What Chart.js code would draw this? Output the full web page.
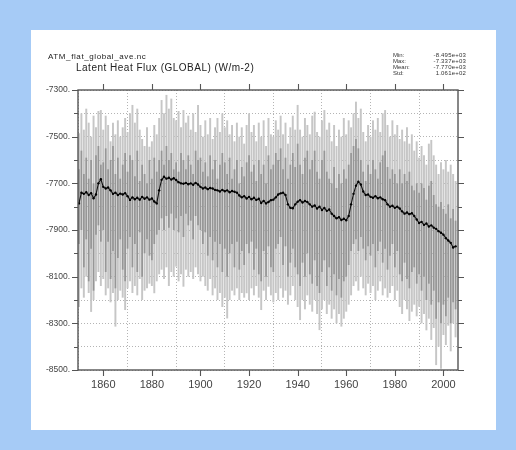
<!DOCTYPE html>
<html>
<head>
<meta charset="utf-8">
<script src="https://cdn.jsdelivr.net/npm/chart.js@4/dist/chart.umd.min.js"></script>
<style>
  html, body { margin:0; padding:0; }
  body { width:516px; height:450px; background:#a6cbf6; position:relative; overflow:hidden; font-family:"Liberation Sans", Arial, sans-serif; }
  #panel { position:absolute; left:31px; top:30px; width:465px; height:400px; background:#ffffff; }
  #wrap { position:absolute; left:0; top:0; width:516px; height:450px; }
  .t { position:absolute; white-space:nowrap; color:#222; }
  #fname { left:48px; top:53px; font-size:8px; line-height:8px; letter-spacing:0.6px; }
  #title { left:76px; top:63px; font-size:10px; line-height:10px; letter-spacing:0.5px; }
  .s { position:absolute; font-size:6px; line-height:6px; color:#333; white-space:nowrap; }
  .sl { left:393px; }
  .sv { right:50px; text-align:right; letter-spacing:0.2px; }
</style>
</head>
<body>
<div id="panel"></div>
<div id="wrap"><canvas id="c" width="516" height="450"></canvas></div>
<div class="t" id="fname">ATM_flat_global_ave.nc</div>
<div class="t" id="title">Latent Heat Flux (GLOBAL) (W/m-2)</div>
<div class="s sl" style="top:52px">Min:</div>
<div class="s sl" style="top:58px">Max:</div>
<div class="s sl" style="top:64px">Mean:</div>
<div class="s sl" style="top:70px">Std:</div>
<div class="s sv" style="top:52px">-8.495e+03</div>
<div class="s sv" style="top:58px">-7.337e+03</div>
<div class="s sv" style="top:64px">-7.770e+03</div>
<div class="s sv" style="top:70px">1.061e+02</div>
<script>
const years = [
1850,1851,1852,1853,1854,1855,1856,1857,1858,1859,
1860,1861,1862,1863,1864,1865,1866,1867,1868,1869,
1870,1871,1872,1873,1874,1875,1876,1877,1878,1879,
1880,1881,1882,1883,1884,1885,1886,1887,1888,1889,
1890,1891,1892,1893,1894,1895,1896,1897,1898,1899,
1900,1901,1902,1903,1904,1905,1906,1907,1908,1909,
1910,1911,1912,1913,1914,1915,1916,1917,1918,1919,
1920,1921,1922,1923,1924,1925,1926,1927,1928,1929,
1930,1931,1932,1933,1934,1935,1936,1937,1938,1939,
1940,1941,1942,1943,1944,1945,1946,1947,1948,1949,
1950,1951,1952,1953,1954,1955,1956,1957,1958,1959,
1960,1961,1962,1963,1964,1965,1966,1967,1968,1969,
1970,1971,1972,1973,1974,1975,1976,1977,1978,1979,
1980,1981,1982,1983,1984,1985,1986,1987,1988,1989,
1990,1991,1992,1993,1994,1995,1996,1997,1998,1999,
2000,2001,2002,2003,2004,2005];

const meanV = [
-7786,-7740,-7745,-7738,-7750,-7742,-7764,-7748,-7700,-7682,
-7715,-7722,-7718,-7730,-7745,-7740,-7750,-7744,-7748,-7742,
-7755,-7771,-7760,-7768,-7762,-7770,-7758,-7766,-7760,-7770,
-7765,-7778,-7786,-7730,-7685,-7672,-7680,-7676,-7684,-7678,
-7686,-7695,-7700,-7702,-7698,-7704,-7700,-7706,-7698,-7705,
-7715,-7722,-7718,-7725,-7720,-7722,-7728,-7730,-7735,-7728,
-7734,-7730,-7738,-7733,-7736,-7740,-7752,-7760,-7755,-7765,
-7758,-7768,-7762,-7771,-7766,-7784,-7775,-7786,-7780,-7772,
-7770,-7760,-7748,-7743,-7740,-7750,-7790,-7805,-7807,-7790,
-7779,-7772,-7782,-7776,-7780,-7790,-7800,-7795,-7808,-7800,
-7814,-7806,-7818,-7812,-7830,-7840,-7850,-7845,-7857,-7852,
-7858,-7840,-7790,-7745,-7710,-7693,-7705,-7735,-7750,-7748,
-7758,-7762,-7755,-7764,-7760,-7768,-7772,-7790,-7800,-7796,
-7805,-7800,-7808,-7820,-7830,-7825,-7832,-7828,-7840,-7855,
-7870,-7865,-7878,-7872,-7885,-7880,-7890,-7895,-7905,-7912,
-7920,-7935,-7945,-7955,-7975,-7970];

const maxV = [
-7485,-7400,-7470,-7380,-7440,-7500,-7410,-7460,-7390,-7386,
-7470,-7410,-7450,-7520,-7440,-7490,-7430,-7500,-7460,-7420,
-7480,-7400,-7364,-7440,-7380,-7470,-7510,-7540,-7460,-7543,
-7520,-7450,-7490,-7420,-7343,-7400,-7321,-7380,-7337,-7420,
-7430,-7390,-7460,-7386,-7440,-7410,-7470,-7400,-7480,-7364,
-7450,-7500,-7430,-7490,-7420,-7510,-7460,-7420,-7480,-7400,
-7460,-7430,-7490,-7450,-7520,-7440,-7500,-7460,-7530,-7450,
-7400,-7480,-7450,-7520,-7440,-7500,-7430,-7540,-7420,-7490,
-7500,-7430,-7470,-7410,-7490,-7440,-7530,-7460,-7410,-7470,
-7364,-7470,-7500,-7420,-7450,-7490,-7410,-7393,-7480,-7500,
-7430,-7386,-7470,-7440,-7520,-7450,-7540,-7470,-7500,-7420,
-7490,-7430,-7460,-7400,-7350,-7420,-7380,-7480,-7520,-7450,
-7500,-7430,-7470,-7420,-7480,-7400,-7386,-7450,-7500,-7430,
-7490,-7450,-7510,-7470,-7520,-7460,-7530,-7490,-7560,-7520,
-7590,-7540,-7580,-7620,-7530,-7514,-7580,-7620,-7660,-7610,
-7640,-7600,-7650,-7620,-7660,-7690];

const minV = [
-8230,-8150,-8190,-8100,-8170,-8251,-8200,-8120,-8080,-8140,
-8110,-8180,-8150,-8210,-8170,-8314,-8200,-8160,-8190,-8243,
-8150,-8120,-8170,-8140,-8180,-8110,-8200,-8160,-8150,-8130,
-8140,-8171,-8120,-8090,-8070,-8110,-8060,-8140,-8080,-8100,
-8057,-8120,-8090,-8143,-8070,-8100,-8080,-8110,-8060,-8090,
-8120,-8100,-8140,-8160,-8110,-8180,-8150,-8200,-8170,-8230,
-8190,-8279,-8200,-8160,-8180,-8150,-8200,-8170,-8190,-8171,
-8200,-8150,-8180,-8140,-8190,-8243,-8160,-8200,-8143,-8180,
-8210,-8170,-8200,-8150,-8190,-8160,-8220,-8180,-8140,-8200,
-8230,-8286,-8200,-8240,-8180,-8220,-8250,-8200,-8260,-8329,
-8240,-8200,-8260,-8220,-8280,-8240,-8300,-8260,-8314,-8280,
-8250,-8220,-8180,-8140,-8120,-8160,-8100,-8150,-8180,-8130,
-8170,-8140,-8200,-8160,-8120,-8180,-8150,-8190,-8170,-8140,
-8200,-8160,-8230,-8260,-8200,-8240,-8290,-8250,-8220,-8270,
-8229,-8300,-8260,-8330,-8280,-8371,-8320,-8479,-8400,-8495,
-8350,-8393,-8310,-8420,-8300,-8360];

const darkTop = [
-7640,-7560,-7660,-7590,-7680,-7600,-7700,-7580,-7540,-7620,
-7610,-7550,-7640,-7600,-7540,-7660,-7590,-7680,-7620,-7570,
-7650,-7580,-7600,-7670,-7560,-7690,-7620,-7660,-7700,-7600,
-7680,-7590,-7650,-7600,-7560,-7620,-7540,-7600,-7570,-7640,
-7610,-7650,-7570,-7600,-7640,-7580,-7620,-7660,-7560,-7600,
-7590,-7650,-7610,-7670,-7580,-7640,-7600,-7680,-7620,-7570,
-7610,-7660,-7590,-7680,-7640,-7600,-7700,-7630,-7670,-7610,
-7580,-7650,-7620,-7690,-7600,-7660,-7620,-7700,-7580,-7640,
-7620,-7570,-7600,-7550,-7640,-7590,-7680,-7620,-7570,-7630,
-7530,-7620,-7660,-7590,-7560,-7640,-7600,-7560,-7650,-7680,
-7600,-7560,-7650,-7680,-7700,-7630,-7720,-7660,-7700,-7640,
-7680,-7620,-7570,-7540,-7510,-7550,-7600,-7650,-7690,-7620,
-7660,-7600,-7640,-7680,-7610,-7580,-7560,-7630,-7680,-7640,
-7660,-7700,-7640,-7700,-7660,-7690,-7650,-7710,-7730,-7700,
-7740,-7700,-7720,-7770,-7710,-7690,-7750,-7790,-7800,-7780,
-7810,-7830,-7790,-7850,-7810,-7860];

const darkBottom = [
-7960,-7900,-8060,-7940,-8120,-7980,-8160,-7920,-7880,-7950,
-7900,-8080,-7950,-8110,-7990,-8150,-8020,-7940,-8070,-8120,
-7980,-7930,-8060,-7960,-8080,-7910,-8100,-8000,-7940,-8010,
-8030,-7960,-7920,-7900,-7850,-7900,-7840,-7890,-7830,-7900,
-7850,-7910,-7840,-7930,-7830,-7880,-7860,-7940,-7840,-7880,
-7900,-7960,-7910,-8010,-7930,-8030,-7950,-8060,-7960,-8080,
-7980,-8100,-8000,-7960,-8060,-7950,-8070,-7990,-8050,-7960,
-8000,-7950,-8070,-7980,-8090,-8120,-7990,-8100,-7970,-8060,
-8080,-7980,-7960,-7930,-8050,-7970,-8100,-8040,-7980,-8060,
-8090,-8140,-8040,-8100,-8000,-8090,-8130,-8030,-8140,-8170,
-8080,-8030,-8140,-8060,-8160,-8090,-8180,-8110,-8190,-8120,
-8100,-8050,-7990,-7960,-7940,-7990,-7930,-7980,-8030,-7970,
-8010,-7960,-8060,-7990,-7950,-8040,-7980,-8070,-8010,-7960,
-8060,-7990,-8090,-8120,-8040,-8110,-8150,-8080,-8060,-8130,
-8090,-8160,-8100,-8200,-8130,-8220,-8160,-8280,-8210,-8300,
-8220,-8270,-8190,-8300,-8210,-8240];

const yTop = -7300, yBottom = -8500, yStep = 100, yLabelStep = 200;
const xMin = 1849.6, xMax = 2006, xStep = 20;

const frameTicks = {
  id: 'frameTicks',
  afterDraw(chart) {
    const {ctx, chartArea: a, scales: {x, y}} = chart;
    ctx.save();
    ctx.strokeStyle = '#555';
    ctx.lineWidth = 1.4;
    ctx.strokeRect(a.left, a.top, a.right - a.left, a.bottom - a.top);
    ctx.lineWidth = 1.1;
    ctx.beginPath();
    for (let v = yBottom; v <= yTop; v += yStep) {
      const py = Math.round(y.getPixelForValue(v)) + 0.5;
      const major = (v - yTop) % yLabelStep === 0;
      const L = major ? 6 : 4;
      ctx.moveTo(a.left - L, py); ctx.lineTo(a.left, py);
      ctx.moveTo(a.right, py); ctx.lineTo(a.right + L, py);
    }
    for (let v = 1860; v <= 2000; v += xStep) {
      const px = Math.round(x.getPixelForValue(v)) + 0.5;
      ctx.moveTo(px, a.top - 6); ctx.lineTo(px, a.top);
      ctx.moveTo(px, a.bottom); ctx.lineTo(px, a.bottom + 6);
    }
    ctx.stroke();
    ctx.restore();
  }
};

const barPts = (lo, hi) => years.map((yr, i) => ({x: yr, y: [lo[i], hi[i]]}));

new Chart(document.getElementById('c'), {
  type: 'bar',
  data: {
    datasets: [
      { type: 'line', data: years.map((yr, i) => ({x: yr, y: meanV[i]})),
        borderColor: '#111', borderWidth: 1.1, pointRadius: 1.2, pointBackgroundColor: '#000',
        pointBorderWidth: 0, tension: 0, order: 1 },
      { data: barPts(darkBottom, darkTop), backgroundColor: '#969696', grouped: false,
        barPercentage: 0.7, categoryPercentage: 1, order: 2 },
      { data: barPts(minV, maxV), backgroundColor: '#c6c6c6', grouped: false,
        barPercentage: 0.8, categoryPercentage: 1, order: 3 }
    ]
  },
  options: {
    responsive: false,
    animation: false,
    events: [],
    layout: { padding: { left: 36, right: 58, top: 90, bottom: 50 } },
    plugins: { legend: { display: false }, tooltip: { enabled: false } },
    scales: {
      x: {
        type: 'linear', min: xMin, max: xMax, offset: false,
        afterFit: s => { s.height = 30; },
        ticks: { stepSize: xStep, includeBounds: false, padding: 8, maxRotation: 0,
                 color: '#444', font: { family: 'Liberation Sans', size: 11 },
                 callback: v => String(v) },
        grid: { color: '#b4b4b4', lineWidth: 1, drawTicks: false },
        border: { display: false, dash: [1, 2] }
      },
      y: {
        type: 'linear', min: yBottom, max: yTop,
        afterFit: s => { s.width = 42; },
        ticks: { stepSize: yStep, padding: 8, color: '#444',
                 font: { family: 'Liberation Sans', size: 8.5 },
                 callback: v => ((v - yTop) % yLabelStep === 0 ? v + '.' : '') },
        grid: { color: '#b4b4b4', lineWidth: 1, drawTicks: false },
        border: { display: false, dash: [1, 2] }
      }
    }
  },
  plugins: [frameTicks]
});
</script>
</body>
</html>
